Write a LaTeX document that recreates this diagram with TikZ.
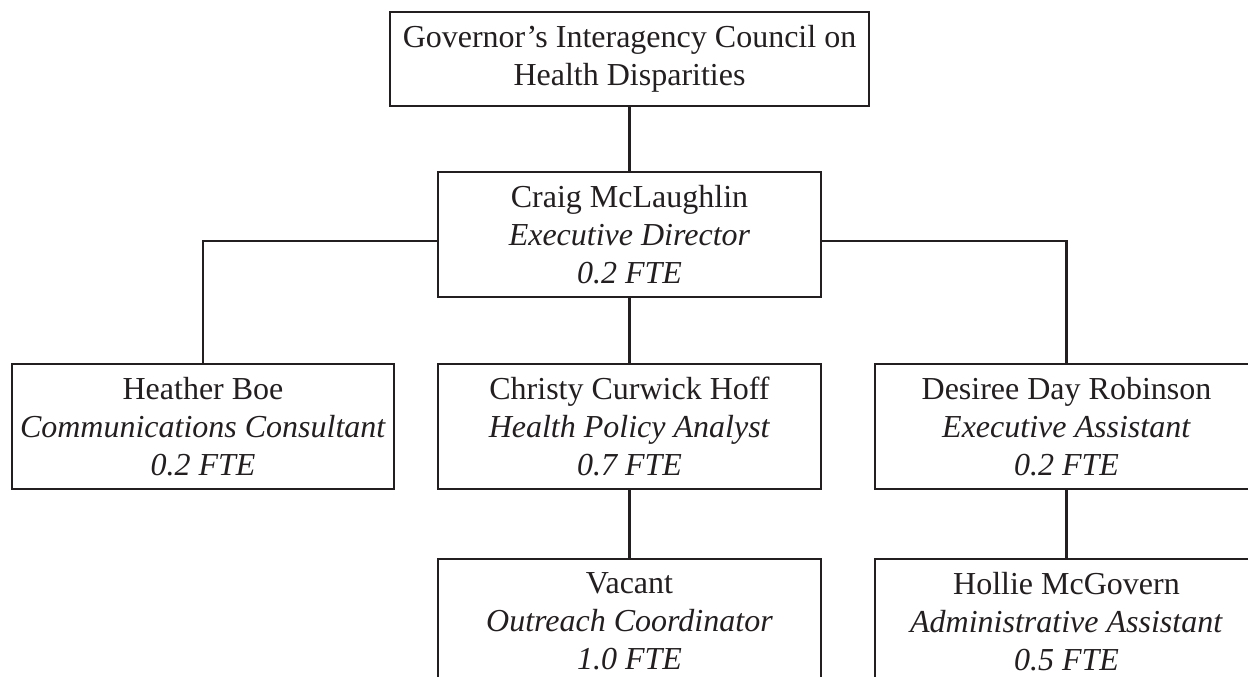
\documentclass[tikz,border=0pt]{standalone}
\usepackage{fontspec}
\setmainfont{Liberation Serif}
\definecolor{ink}{RGB}{35,31,32}
\begin{document}
\begin{tikzpicture}[x=1pt,y=-1pt,
  orgbox/.style={draw=ink,line width=2.8pt,inner sep=0pt,align=center,
    text=ink,font=\fontsize{32}{38}\selectfont,minimum width=383pt,minimum height=125pt},
  link/.style={draw=ink,line width=2.8pt}]
\useasboundingbox[fill=white] (0,0) rectangle (1248,677);
\node[orgbox,minimum width=479pt,minimum height=94pt] (gov) at (629.5,59)
  {Governor’s Interagency Council on\\Health Disparities};
\node[orgbox] (craig) at (629.5,234.5)
  {Craig McLaughlin\\\textit{Executive Director}\\\textit{0.2 FTE}};
\node[orgbox,minimum width=382pt] (heather) at (203,426.5)
  {Heather Boe\\\textit{Communications Consultant}\\\textit{0.2 FTE}};
\node[orgbox] (christy) at (629.5,426.5)
  {Christy Curwick Hoff\\\textit{Health Policy Analyst}\\\textit{0.7 FTE}};
\node[orgbox] (desiree) at (1066.5,426.5)
  {Desiree Day Robinson\\\textit{Executive Assistant}\\\textit{0.2 FTE}};
\node[orgbox] (vacant) at (629.5,621.5)
  {Vacant\\\textit{Outreach Coordinator}\\\textit{1.0 FTE}};
\node[orgbox] (hollie) at (1066.5,621.5)
  {Hollie McGovern\\\textit{Administrative Assistant}\\\textit{0.5 FTE}};
\draw[link] (gov.south) -- (craig.north);
\draw[link] (craig.south) -- (christy.north);
\draw[link] (christy.south) -- (vacant.north);
\draw[link] (desiree.south) -- (hollie.north);
\draw[link] (heather.north) |- ([yshift=-6.5pt]craig.west);
\draw[link] (desiree.north) |- ([yshift=-6.5pt]craig.east);
\end{tikzpicture}
\end{document}
